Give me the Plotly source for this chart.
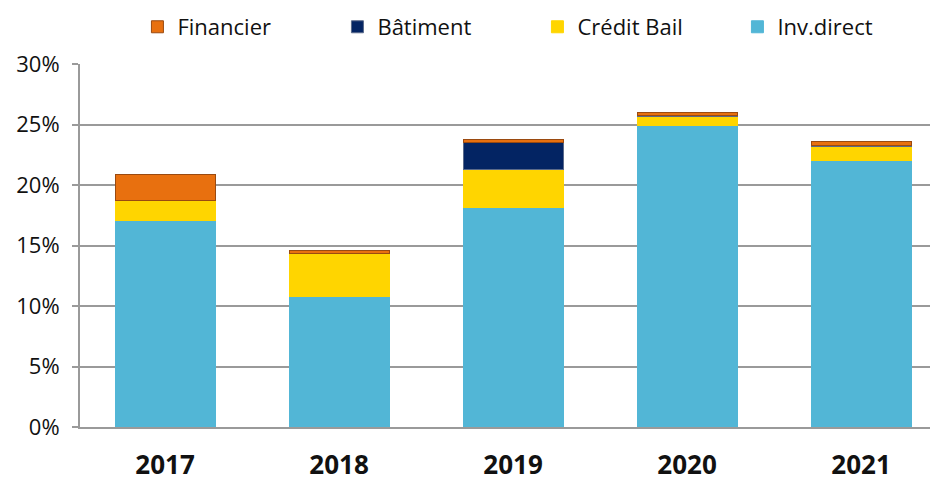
import plotly.graph_objects as go

# Données (en %)
annees = ["2017", "2018", "2019", "2020", "2021"]
inv_direct = [17.1, 10.75, 18.1, 24.9, 22.0]
credit_bail = [1.65, 3.55, 3.15, 0.8, 1.2]
batiment = [0.0, 0.0, 2.25, 0.05, 0.1]
financier = [2.15, 0.25, 0.3, 0.25, 0.3]

x = list(range(len(annees)))

series = [
    ("Inv.direct", inv_direct, "#52B6D6", "#52B6D6"),
    ("Crédit Bail", credit_bail, "#FFD500", "#FFD500"),
    ("Bâtiment", batiment, "#032463", "#5A6A8A"),
    ("Financier", financier, "#E8700F", "#9A4A10"),
]

fig = go.Figure()
for nom, vals, couleur, bord in series:
    fig.add_trace(go.Bar(
        x=x,
        y=vals,
        name=nom,
        marker=dict(color=couleur, line=dict(color=bord, width=1)),
        hovertemplate="%{y:.1f}%<extra>" + nom + "</extra>",
    ))

# la page ajoute une marge de 8 px autour de la figure
fig.update_layout(
    barmode="stack",
    bargap=0.425,
    width=930,
    height=475,
    margin=dict(l=72, r=3, t=56, b=56, autoexpand=False),
    plot_bgcolor="white",
    paper_bgcolor="white",
    font=dict(family="Open Sans, Noto Sans, sans-serif", color="#111111", size=20),
    legend=dict(
        orientation="h",
        traceorder="reversed",
        x=0.535, xanchor="center",
        y=1.102, yanchor="middle",
        font=dict(size=22),
        entrywidth=155,
        itemwidth=30,
    ),
    xaxis=dict(
        tickmode="array",
        tickvals=x,
        ticktext=["<b>" + a + "</b>" for a in annees],
        tickfont=dict(size=26),
        ticklabelstandoff=14,
        range=[-0.489, 4.425],
        showline=True,
        linecolor="#9A9A9A",
        linewidth=2,
        ticks="",
        automargin=False,
    ),
    yaxis=dict(
        range=[0, 30],
        tickvals=[0, 5, 10, 15, 20, 25, 30],
        ticktext=["0%", "5%", "10%", "15%", "20%", "25%", "30%"],
        tickfont=dict(size=22),
        ticklabelstandoff=8,
        showgrid=True,
        gridcolor="#9A9A9A",
        gridwidth=2,
        showline=True,
        linecolor="#9A9A9A",
        linewidth=2,
        ticks="outside",
        ticklen=6,
        tickcolor="#9A9A9A",
        tickwidth=2,
        zeroline=False,
        automargin=False,
    ),
)

fig.write_html("out.html")
